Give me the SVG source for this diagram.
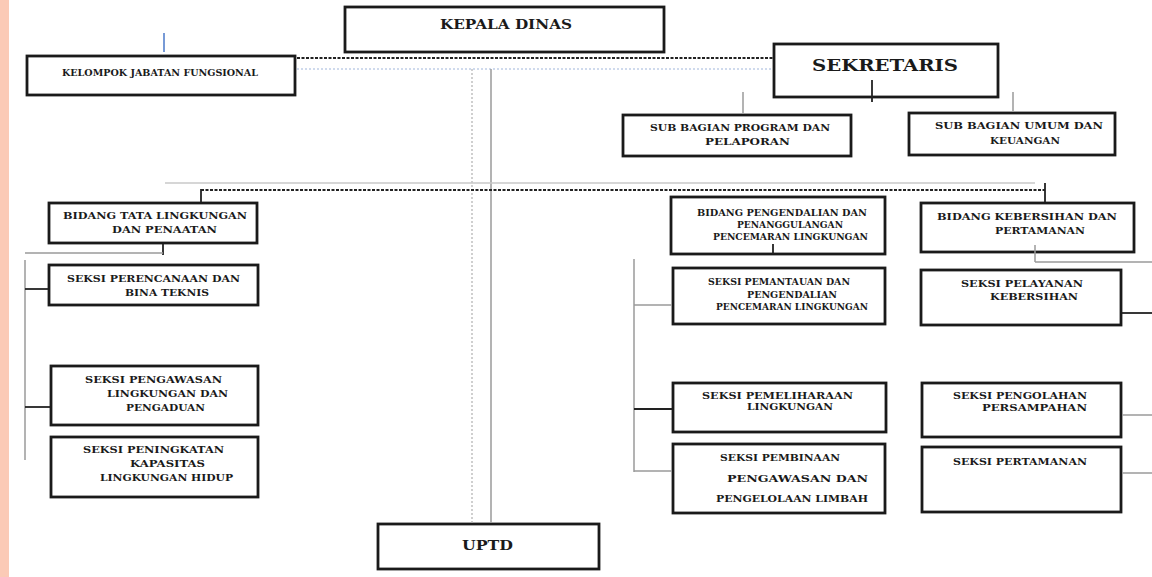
<svg xmlns="http://www.w3.org/2000/svg" width="1152" height="577" viewBox="0 0 1152 577">
<style>
.box{fill:#fff;stroke:#1a1a1a;stroke-width:2.8}
.t{font-family:"DejaVu Serif","Liberation Serif",serif;font-weight:bold;font-size:8.5px;fill:#1a1a1a}
.big{font-family:"DejaVu Serif","Liberation Serif",serif;font-weight:bold;fill:#1a1a1a}
.g{stroke:#9a9a9a;stroke-width:1.5;fill:none}
.k{stroke:#222;stroke-width:1.8;fill:none}
.kd{stroke:#222;stroke-width:2.2;stroke-dasharray:3 1.5;fill:none}
.bd{stroke:#9fb6dc;stroke-width:1.2;stroke-dasharray:2 2;fill:none}
.gd{stroke:#b0b0b0;stroke-width:1.2;stroke-dasharray:2 2;fill:none}
</style>
<rect x="0" y="0" width="1152" height="577" fill="#fff"/>
<rect x="0" y="0" width="9" height="577" fill="#fbcab6"/>
<g id="kepala-dinas">
<rect class="box" x="345" y="7" width="319" height="45"/>
<text class="big" font-size="12.5" x="440" y="29" textLength="132" lengthAdjust="spacingAndGlyphs">KEPALA DINAS</text>
</g>
<g id="kelompok-jabatan-fungsional">
<rect class="box" x="27" y="56" width="268" height="39"/>
<text class="t" x="62" y="76" textLength="196" lengthAdjust="spacingAndGlyphs">KELOMPOK JABATAN FUNGSIONAL</text>
</g>
<g id="sekretaris">
<rect class="box" x="774" y="44" width="224" height="53"/>
<text class="big" font-size="16" x="812" y="71" textLength="146" lengthAdjust="spacingAndGlyphs">SEKRETARIS</text>
</g>
<g id="subbag-program">
<rect class="box" x="623" y="115" width="228" height="41"/>
<text class="t" x="650" y="131" textLength="180" lengthAdjust="spacingAndGlyphs">SUB BAGIAN PROGRAM DAN</text>
<text class="t" x="705" y="145" textLength="85" lengthAdjust="spacingAndGlyphs">PELAPORAN</text>
</g>
<g id="subbag-umum">
<rect class="box" x="909" y="113" width="206" height="42"/>
<text class="t" x="935" y="129" textLength="168" lengthAdjust="spacingAndGlyphs">SUB BAGIAN UMUM DAN</text>
<text class="t" x="990" y="144" textLength="70" lengthAdjust="spacingAndGlyphs">KEUANGAN</text>
</g>
<g id="bidang-tata-lingkungan">
<rect class="box" x="49" y="203" width="208" height="40"/>
<text class="t" x="63" y="219" textLength="184" lengthAdjust="spacingAndGlyphs">BIDANG TATA LINGKUNGAN</text>
<text class="t" x="112" y="233" textLength="105" lengthAdjust="spacingAndGlyphs">DAN PENAATAN</text>
</g>
<g id="seksi-perencanaan">
<rect class="box" x="49" y="265" width="209" height="40"/>
<text class="t" x="67" y="282" textLength="173" lengthAdjust="spacingAndGlyphs">SEKSI PERENCANAAN DAN</text>
<text class="t" x="125" y="296" textLength="84" lengthAdjust="spacingAndGlyphs">BINA TEKNIS</text>
</g>
<g id="seksi-pengawasan">
<rect class="box" x="51" y="366" width="207" height="59"/>
<text class="t" x="85" y="383" textLength="137" lengthAdjust="spacingAndGlyphs">SEKSI PENGAWASAN</text>
<text class="t" x="107" y="397" textLength="121" lengthAdjust="spacingAndGlyphs">LINGKUNGAN DAN</text>
<text class="t" x="126" y="411" textLength="79" lengthAdjust="spacingAndGlyphs">PENGADUAN</text>
</g>
<g id="seksi-peningkatan">
<rect class="box" x="51" y="437" width="207" height="60"/>
<text class="t" x="83" y="453" textLength="141" lengthAdjust="spacingAndGlyphs">SEKSI PENINGKATAN</text>
<text class="t" x="130" y="467" textLength="75" lengthAdjust="spacingAndGlyphs">KAPASITAS</text>
<text class="t" x="100" y="481" textLength="133" lengthAdjust="spacingAndGlyphs">LINGKUNGAN HIDUP</text>
</g>
<g id="bidang-pengendalian">
<rect class="box" x="671" y="197" width="214" height="57"/>
<text class="t" x="697" y="216" textLength="170" lengthAdjust="spacingAndGlyphs">BIDANG PENGENDALIAN DAN</text>
<text class="t" x="737" y="228" textLength="106" lengthAdjust="spacingAndGlyphs">PENANGGULANGAN</text>
<text class="t" x="713" y="240" textLength="155" lengthAdjust="spacingAndGlyphs">PENCEMARAN LINGKUNGAN</text>
</g>
<g id="seksi-pemantauan">
<rect class="box" x="673" y="268" width="212" height="56"/>
<text class="t" x="708" y="285" textLength="142" lengthAdjust="spacingAndGlyphs">SEKSI PEMANTAUAN DAN</text>
<text class="t" x="747" y="298" textLength="90" lengthAdjust="spacingAndGlyphs">PENGENDALIAN</text>
<text class="t" x="716" y="310" textLength="152" lengthAdjust="spacingAndGlyphs">PENCEMARAN LINGKUNGAN</text>
</g>
<g id="seksi-pemeliharaan">
<rect class="box" x="673" y="383" width="213" height="49"/>
<text class="t" x="702" y="399" textLength="151" lengthAdjust="spacingAndGlyphs">SEKSI PEMELIHARAAN</text>
<text class="t" x="747" y="410" textLength="86" lengthAdjust="spacingAndGlyphs">LINGKUNGAN</text>
</g>
<g id="seksi-pembinaan">
<rect class="box" x="673" y="444" width="212" height="69"/>
<text class="t" x="720" y="461" textLength="120" lengthAdjust="spacingAndGlyphs">SEKSI PEMBINAAN</text>
<text class="t" x="727" y="482" textLength="141" lengthAdjust="spacingAndGlyphs">PENGAWASAN DAN</text>
<text class="t" x="716" y="502" textLength="152" lengthAdjust="spacingAndGlyphs">PENGELOLAAN LIMBAH</text>
</g>
<g id="bidang-kebersihan">
<rect class="box" x="921" y="203" width="213" height="49"/>
<text class="t" x="937" y="220" textLength="180" lengthAdjust="spacingAndGlyphs">BIDANG KEBERSIHAN DAN</text>
<text class="t" x="995" y="234" textLength="90" lengthAdjust="spacingAndGlyphs">PERTAMANAN</text>
</g>
<g id="seksi-pelayanan">
<rect class="box" x="921" y="270" width="200" height="55"/>
<text class="t" x="961" y="287" textLength="122" lengthAdjust="spacingAndGlyphs">SEKSI PELAYANAN</text>
<text class="t" x="990" y="300" textLength="88" lengthAdjust="spacingAndGlyphs">KEBERSIHAN</text>
</g>
<g id="seksi-pengolahan">
<rect class="box" x="922" y="383" width="199" height="54"/>
<text class="t" x="953" y="399" textLength="134" lengthAdjust="spacingAndGlyphs">SEKSI PENGOLAHAN</text>
<text class="t" x="982" y="411" textLength="105" lengthAdjust="spacingAndGlyphs">PERSAMPAHAN</text>
</g>
<g id="seksi-pertamanan">
<rect class="box" x="922" y="447" width="199" height="65"/>
<text class="t" x="953" y="465" textLength="134" lengthAdjust="spacingAndGlyphs">SEKSI PERTAMANAN</text>
</g>
<g id="uptd">
<rect class="box" x="378" y="524" width="221" height="45"/>
<text class="big" font-size="12.5" x="462" y="550" textLength="51" lengthAdjust="spacingAndGlyphs">UPTD</text>
</g>
<g id="connectors">
<line class="kd" x1="297" y1="58" x2="773" y2="58"/>
<line class="bd" x1="297" y1="69" x2="773" y2="69"/>
<line x1="164" y1="33" x2="164" y2="52" stroke="#4a78c8" stroke-width="1.5"/>
<line class="gd" x1="472" y1="69" x2="472" y2="523"/>
<line class="g" x1="491" y1="69" x2="491" y2="523"/>
<line class="k" x1="872" y1="80" x2="872" y2="102"/>
<line class="g" x1="743" y1="92" x2="743" y2="113"/>
<line class="g" x1="1013" y1="92" x2="1013" y2="111"/>
<line x1="165" y1="183" x2="1035" y2="183" stroke="#c8c8c8" stroke-width="1.3"/>
<line class="kd" x1="201" y1="190" x2="1045" y2="190"/>
<line class="k" x1="201" y1="189" x2="201" y2="202"/>
<line class="k" x1="1045" y1="183" x2="1045" y2="202"/>
<line class="k" x1="163" y1="244" x2="163" y2="255"/>
<line class="g" x1="25" y1="253" x2="163" y2="253"/>
<line class="g" x1="25" y1="260" x2="25" y2="460"/>
<line class="k" x1="25" y1="289" x2="48" y2="289"/>
<line class="k" x1="25" y1="407" x2="50" y2="407"/>
<line class="k" x1="773" y1="244" x2="773" y2="254"/>
<line class="g" x1="634" y1="259" x2="634" y2="472"/>
<line class="g" x1="634" y1="305" x2="672" y2="305"/>
<line class="k" x1="634" y1="409" x2="672" y2="409"/>
<line class="g" x1="634" y1="471" x2="672" y2="471"/>
<line class="g" x1="1035" y1="245" x2="1035" y2="262"/>
<line class="g" x1="1035" y1="262" x2="1152" y2="262"/>
<line class="k" x1="1122" y1="313" x2="1152" y2="313"/>
<line class="g" x1="1122" y1="415" x2="1152" y2="415"/>
<line class="g" x1="1122" y1="473" x2="1152" y2="473"/>
</g>
</svg>
